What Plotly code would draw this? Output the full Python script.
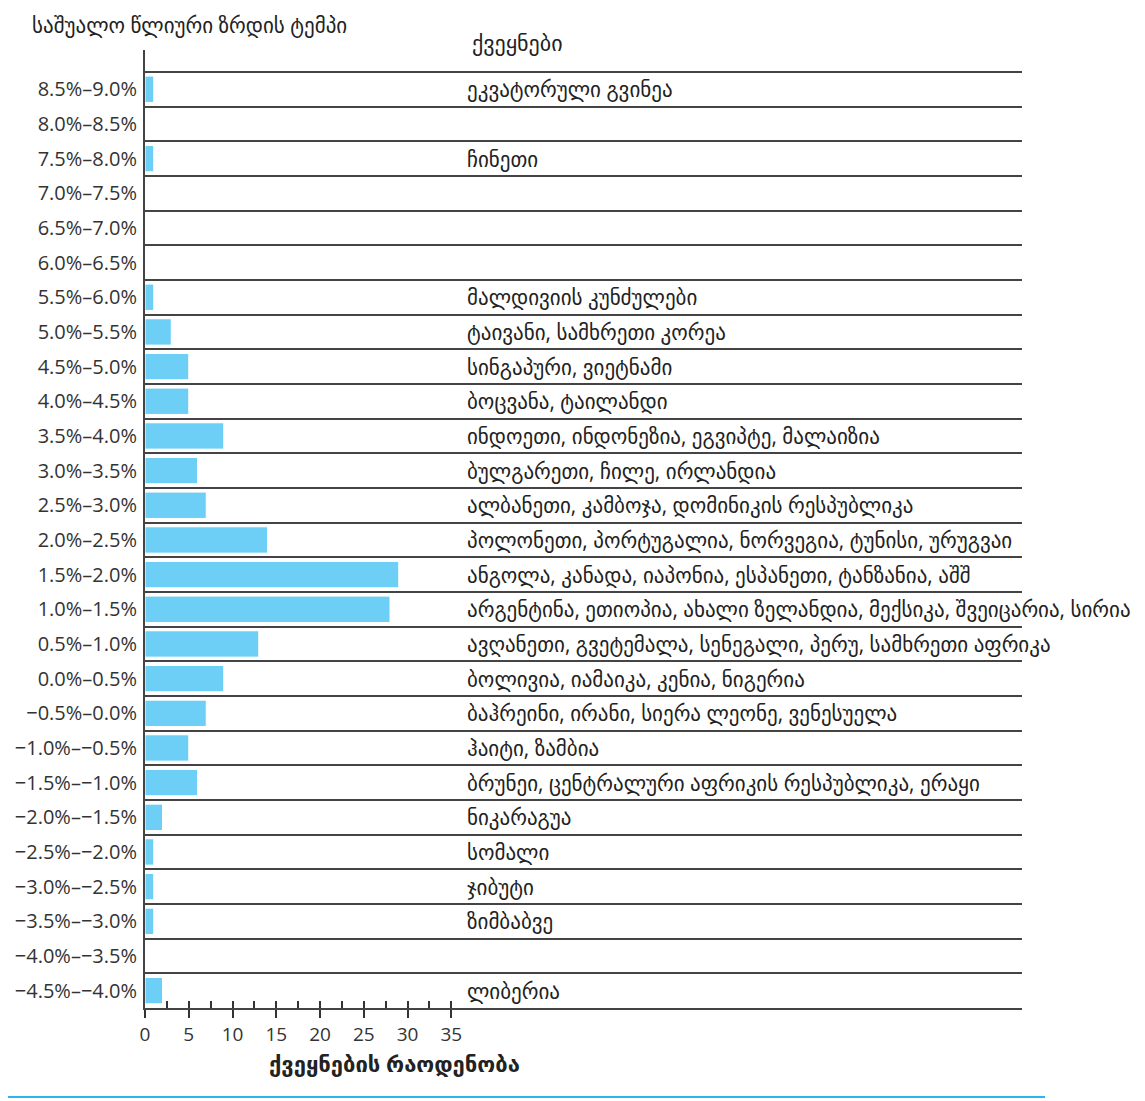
import plotly.graph_objects as go

# ---------------- data ----------------
growth_ranges = [
    "8.5%–9.0%", "8.0%–8.5%", "7.5%–8.0%", "7.0%–7.5%", "6.5%–7.0%", "6.0%–6.5%",
    "5.5%–6.0%", "5.0%–5.5%", "4.5%–5.0%", "4.0%–4.5%", "3.5%–4.0%", "3.0%–3.5%",
    "2.5%–3.0%", "2.0%–2.5%", "1.5%–2.0%", "1.0%–1.5%", "0.5%–1.0%", "0.0%–0.5%",
    "−0.5%–0.0%", "−1.0%–−0.5%", "−1.5%–−1.0%", "−2.0%–−1.5%", "−2.5%–−2.0%",
    "−3.0%–−2.5%", "−3.5%–−3.0%", "−4.0%–−3.5%", "−4.5%–−4.0%",
]
country_counts = [1, 0, 1, 0, 0, 0, 1, 3, 5, 5, 9, 6, 7, 14, 29, 28, 13, 9, 7, 5, 6, 2, 1, 1, 1, 0, 2]
country_names = [
    "ეკვატორული გვინეა", "", "ჩინეთი", "", "", "",
    "მალდივიის კუნძულები",
    "ტაივანი, სამხრეთი კორეა",
    "სინგაპური, ვიეტნამი",
    "ბოცვანა, ტაილანდი",
    "ინდოეთი, ინდონეზია, ეგვიპტე, მალაიზია",
    "ბულგარეთი, ჩილე, ირლანდია",
    "ალბანეთი, კამბოჯა, დომინიკის რესპუბლიკა",
    "პოლონეთი, პორტუგალია, ნორვეგია, ტუნისი, ურუგვაი",
    "ანგოლა, კანადა, იაპონია, ესპანეთი, ტანზანია, აშშ",
    "არგენტინა, ეთიოპია, ახალი ზელანდია, მექსიკა, შვეიცარია, სირია",
    "ავღანეთი, გვეტემალა, სენეგალი, პერუ, სამხრეთი აფრიკა",
    "ბოლივია, იამაიკა, კენია, ნიგერია",
    "ბაჰრეინი, ირანი, სიერა ლეონე, ვენესუელა",
    "ჰაიტი, ზამბია",
    "ბრუნეი, ცენტრალური აფრიკის რესპუბლიკა, ერაყი",
    "ნიკარაგუა", "სომალი", "ჯიბუტი", "ზიმბაბვე", "", "ლიბერია",
]
x_ticks = [0, 5, 10, 15, 20, 25, 30, 35]
y_title = "საშუალო წლიური ზრდის ტემპი"
x_title = "ქვეყნების რაოდენობა"
list_title = "ქვეყნები"

# ---------------- figure ----------------
FONT = "Open Sans, DejaVu Sans, sans-serif"
n = len(growth_ranges)
ypos = [n - 1 - i for i in range(n)]  # top row first

W, H = 1145, 1101
OFF = 8  # page body margin
ML, MT = 145 - OFF, 50 - OFF
MR = W - (1022 - OFF)
MB = H - (1008 - OFF)
pw, ph = W - ML - MR, H - MT - MB


def px_to_paper(px, py):
    return (px - OFF - ML) / pw, 1 - (py - OFF - MT) / ph


fig = go.Figure()
fig.add_trace(go.Bar(
    x=country_counts, y=ypos, orientation="h",
    marker=dict(color="#6dcff6", line=dict(color="white", width=1)),
    width=0.76, hoverinfo="x+text", text=growth_ranges, textposition="none",
))
fig.add_trace(go.Scatter(x=[0], y=[0], xaxis="x2", mode="markers",
                         marker=dict(opacity=0), hoverinfo="skip", showlegend=False))

for yy, name in zip(ypos, country_names):
    if name:
        fig.add_annotation(x=36.6, y=yy, xref="x", yref="y", text=name,
                           showarrow=False, xanchor="left", yanchor="middle",
                           font=dict(family=FONT, size=21, color="#222"))

for txt, px, py, xa, bold, size in [(y_title, 30, 25, "left", False, 21),
                                    (list_title, 470, 42, "left", False, 22),
                                    (x_title, 394, 1063, "center", True, 22)]:
    xp, yp = px_to_paper(px, py)
    fig.add_annotation(x=xp, y=yp, xref="paper", yref="paper",
                       text=f"<b>{txt}</b>" if bold else txt,
                       showarrow=False, xanchor=xa, yanchor="middle",
                       font=dict(family=FONT, size=size, color="#222"))

x0, y0 = px_to_paper(0, 1097)
x1, _ = px_to_paper(1045, 1097)
fig.add_shape(type="line", xref="paper", yref="paper", x0=x0, x1=x1, y0=y0, y1=y0,
              line=dict(color="#29b6e8", width=2))

fig.update_layout(
    width=W, height=H,
    margin=dict(l=ML, r=MR, t=MT, b=MB, autoexpand=False),
    paper_bgcolor="white", plot_bgcolor="white",
    showlegend=False,
    font=dict(family=FONT, size=19, color="#333"),
    xaxis=dict(
        range=[0, pw / 8.75], tickvals=x_ticks, ticks="outside", ticklen=8,
        tickwidth=1.5, tickcolor="#333", showline=True, linecolor="#444",
        linewidth=2, showgrid=False, zeroline=False, automargin=False,
        tickfont=dict(family=FONT, size=19, color="#333"),
    ),
    xaxis2=dict(
        overlaying="x", matches="x", side="bottom", anchor="y",
        tickvals=[v / 2 for v in range(0, 71, 5)], ticks="inside", ticklen=7,
        tickwidth=1.5, tickcolor="#333", showticklabels=False, automargin=False,
        showline=False, showgrid=False, zeroline=False,
    ),
    yaxis=dict(
        range=[-0.5, -0.5 + ph / 34.67], tickvals=ypos, ticktext=growth_ranges,
        ticks="", showline=True, linecolor="#444", linewidth=2, automargin=False,
        showgrid=False, zeroline=False, ticklabelstandoff=2,
        tickfont=dict(family=FONT, size=20, color="#333"),
        minor=dict(tickvals=[v + 0.5 for v in range(n)], showgrid=True,
                   gridcolor="#444", gridwidth=2, ticks=""),
    ),
    bargap=0.26,
)

fig.write_html("out.html")
